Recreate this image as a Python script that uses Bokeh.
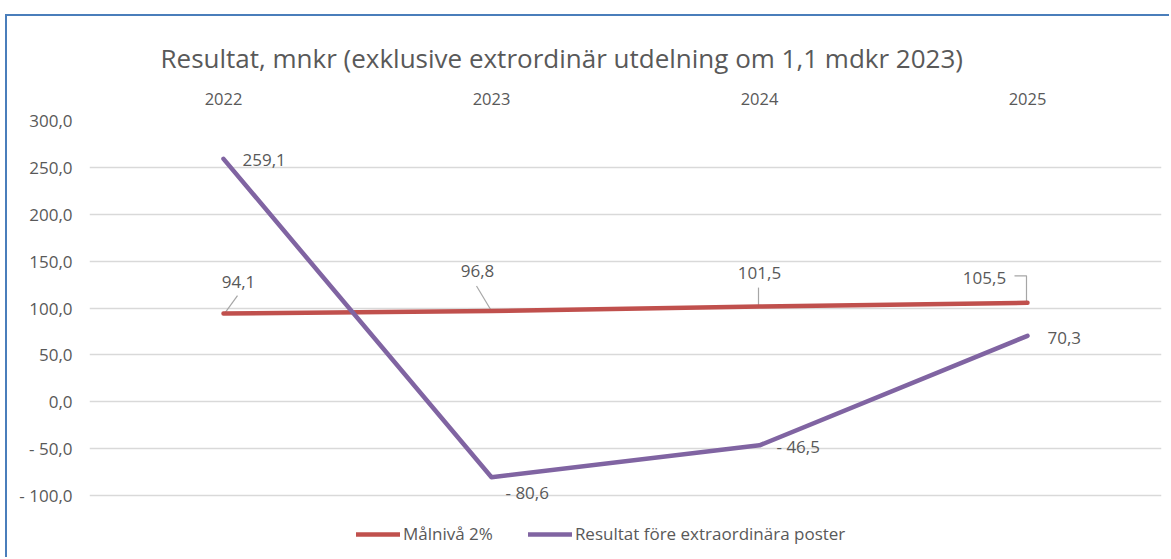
from bokeh.plotting import figure
from bokeh.models import (ColumnDataSource, LabelSet, Legend, LegendItem,
                          FixedTicker, Range1d, Title)
from bokeh.embed import file_html
from bokeh.resources import INLINE
from bokeh.core.properties import value

# ---------------- data ----------------
years = ["2022", "2023", "2024", "2025"]
malniva = [94.1, 96.8, 101.5, 105.5]
resultat = [259.1, -80.6, -46.5, 70.3]
y_ticks = [-100, -50, 0, 50, 100, 150, 200, 250, 300]
title_text = "Resultat, mnkr (exklusive extrordinär utdelning om 1,1 mdkr 2023)"
series_names = ["Målnivå 2%", "Resultat före extraordinära poster"]


def fmt(v):
    s = f"{abs(v):.1f}".replace(".", ",")
    return ("- " + s) if v < 0 else s


# ---------------- layout ----------------
FONT = "Open Sans"
TXT = "#595959"
W, H = 1164, 543
ML, MR, MT, MB = 82, 10, 104, 0
GRID_PX = 375            # pixel height of the gridded band (-100 .. 300)
frame_w = W - ML - MR
frame_h = H - MT - MB
x_lo, x_hi = -0.5, len(years) - 0.5
y_hi = y_ticks[-1]
sy = GRID_PX / (y_ticks[-1] - y_ticks[0])
y_lo = y_hi - frame_h / sy      # frame continues below the grid to hold the legend
sx = frame_w / (x_hi - x_lo)

idx = list(range(len(years)))

p = figure(width=W, height=H, output_backend="svg", toolbar_location=None,
           x_range=Range1d(x_lo, x_hi), y_range=Range1d(y_lo, y_hi),
           min_border_left=ML, min_border_right=MR, min_border_top=MT,
           min_border_bottom=MB, x_axis_location="above")
p.styles = {"margin-left": "5px", "margin-top": "14px",
            "border-left": "2px solid #4a7ebb", "border-top": "2px solid #4a7ebb"}
p.outline_line_color = None
p.background_fill_color = "white"
p.border_fill_color = "white"

p.title = Title(text=title_text, align="left", offset=71,
                text_font=FONT, text_font_size="26px", text_font_style="normal",
                text_color=TXT, standoff=28)

# axes
xa = p.xaxis[0]
xa.ticker = FixedTicker(ticks=idx)
xa.major_label_overrides = {i: y for i, y in zip(idx, years)}
ya = p.yaxis[0]
ya.ticker = FixedTicker(ticks=y_ticks)
ya.major_label_overrides = {t: fmt(t) for t in y_ticks}
for ax in (xa, ya):
    ax.axis_line_color = None
    ax.major_tick_line_color = None
    ax.minor_tick_line_color = None
    ax.major_tick_out = 0
    ax.major_tick_in = 0
    ax.major_label_text_font = FONT
    ax.major_label_text_color = TXT
xa.major_label_text_font_size = "16.5px"
xa.major_label_standoff = 16
ya.major_label_text_font_size = "17px"
ya.major_label_standoff = 17

p.xgrid.grid_line_color = None
p.ygrid.grid_line_color = "#d9d9d9"
p.ygrid.grid_line_width = 1.5

# leader lines for the Målnivå labels (pixel offsets from each point)
leader_px = [[(1.7, -1), (14, -18)],
             [(0, 0), (-15, -25)],
             [(-1, -1), (-1, -19)],
             [(-1, 0), (-1, -27), (-13, -27)]]
lxs, lys = [], []
for i, v, pts in zip(idx, malniva, leader_px):
    lxs.append([i + dx / sx for dx, dy in pts])
    lys.append([v - dy / sy for dx, dy in pts])
p.multi_line(lxs, lys, line_color="#a6a6a6", line_width=1.2)

r1 = p.line(idx, malniva, line_color="#c0504d", line_width=4.5,
            line_cap="round", line_join="round")
r2 = p.line(idx, resultat, line_color="#8064a2", line_width=4.5,
            line_cap="round", line_join="round")

# data labels
src1 = ColumnDataSource(dict(x=idx, y=malniva, t=[fmt(v) for v in malniva],
                             xo=[15, -14, 0, -43], yo=[32, 40, 34, 25]))
p.add_layout(LabelSet(source=src1, x="x", y="y", text="t", x_offset="xo",
                      y_offset="yo", text_align="center", text_baseline="middle",
                      text_font=value(FONT), text_font_size="17px",
                      text_color=TXT))
src2 = ColumnDataSource(dict(x=idx, y=resultat, t=[fmt(v) for v in resultat],
                             xo=[19, 14, 17, 20], yo=[-1, -15, -1, -2]))
p.add_layout(LabelSet(source=src2, x="x", y="y", text="t", x_offset="xo",
                      y_offset="yo", text_align="left", text_baseline="middle",
                      text_font=value(FONT), text_font_size="17px",
                      text_color=TXT))

# legend (inside the lower, grid-free strip of the frame)
legend = Legend(items=[LegendItem(label=series_names[0], renderers=[r1]),
                       LegendItem(label=series_names[1], renderers=[r2])],
                location=(267, 14), orientation="horizontal",
                glyph_width=44, glyph_height=20, label_standoff=3,
                spacing=35, padding=0, margin=0,
                border_line_color=None, background_fill_alpha=0,
                label_text_font=FONT, label_text_font_size="17px",
                label_text_color=TXT)
p.add_layout(legend)

open("out.html", "w").write(file_html(p, INLINE))
